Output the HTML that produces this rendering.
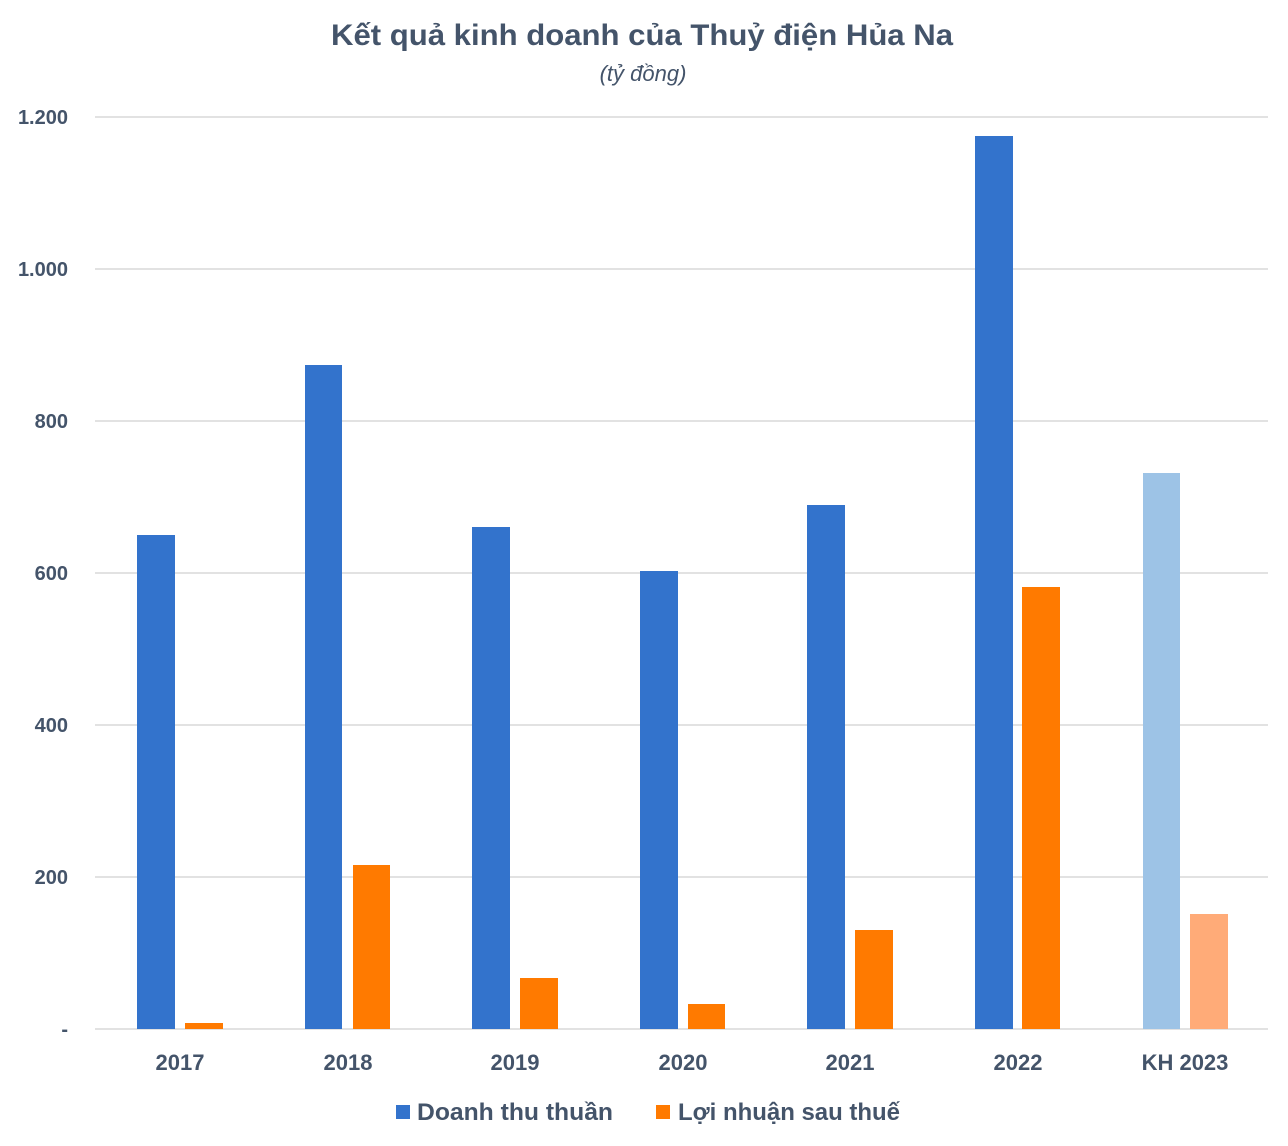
<!DOCTYPE html>
<html><head><meta charset="utf-8"><style>
html,body{margin:0;padding:0;background:#fff;}
svg{display:block;font-family:"Liberation Sans","DejaVu Sans",sans-serif;}
</style></head><body>
<svg width="1288" height="1146" viewBox="0 0 1288 1146" xmlns="http://www.w3.org/2000/svg">
<rect width="1288" height="1146" fill="#fff"/>
<text x="642" y="45" text-anchor="middle" font-size="30" font-weight="bold" fill="#44546a" textLength="622" lengthAdjust="spacingAndGlyphs">Kết quả kinh doanh của Thuỷ điện Hủa Na</text>
<text x="643" y="81" text-anchor="middle" font-size="22" font-style="italic" fill="#44546a">(tỷ đồng)</text>
<g stroke="#d9d9d9" stroke-width="1.5">
<line x1="95" x2="1268" y1="117" y2="117"/>
<line x1="95" x2="1268" y1="269" y2="269"/>
<line x1="95" x2="1268" y1="421" y2="421"/>
<line x1="95" x2="1268" y1="573" y2="573"/>
<line x1="95" x2="1268" y1="725" y2="725"/>
<line x1="95" x2="1268" y1="877" y2="877"/>
<line x1="95" x2="1268" y1="1029" y2="1029"/>
</g>
<g font-size="20" font-weight="bold" fill="#44546a" text-anchor="end">
<text x="68" y="124">1.200</text>
<text x="68" y="276">1.000</text>
<text x="68" y="428">800</text>
<text x="68" y="580">600</text>
<text x="68" y="732">400</text>
<text x="68" y="884">200</text>
<text x="68" y="1036">-</text>
</g>
<g fill="#3373cc">
<rect x="137" y="535" width="38" height="494"/>
<rect x="305" y="365" width="37" height="664"/>
<rect x="472" y="527" width="38" height="502"/>
<rect x="640" y="571" width="38" height="458"/>
<rect x="807" y="505" width="38" height="524"/>
<rect x="975" y="136" width="38" height="893"/>
</g>
<rect x="1143" y="473" width="37" height="556" fill="#9dc3e6"/>
<g fill="#ff7a00">
<rect x="185" y="1023" width="38" height="6"/>
<rect x="353" y="865" width="37" height="164"/>
<rect x="520" y="978" width="38" height="51"/>
<rect x="688" y="1004" width="37" height="25"/>
<rect x="855" y="930" width="38" height="99"/>
<rect x="1022" y="587" width="38" height="442"/>
</g>
<rect x="1190" y="914" width="38" height="115" fill="#ffab78"/>
<g font-size="22" font-weight="bold" fill="#44546a" text-anchor="middle">
<text x="180" y="1070">2017</text>
<text x="348" y="1070">2018</text>
<text x="515" y="1070">2019</text>
<text x="683" y="1070">2020</text>
<text x="850" y="1070">2021</text>
<text x="1018" y="1070">2022</text>
<text x="1185" y="1070">KH 2023</text>
</g>
<rect x="396" y="1105" width="14" height="14" fill="#3373cc"/>
<text x="417" y="1120" font-size="24" font-weight="bold" fill="#44546a" textLength="196" lengthAdjust="spacingAndGlyphs">Doanh thu thuần</text>
<rect x="656" y="1105" width="14" height="14" fill="#ff7a00"/>
<text x="678" y="1120" font-size="24" font-weight="bold" fill="#44546a" textLength="222" lengthAdjust="spacingAndGlyphs">Lợi nhuận sau thuế</text>
</svg>
</body></html>
